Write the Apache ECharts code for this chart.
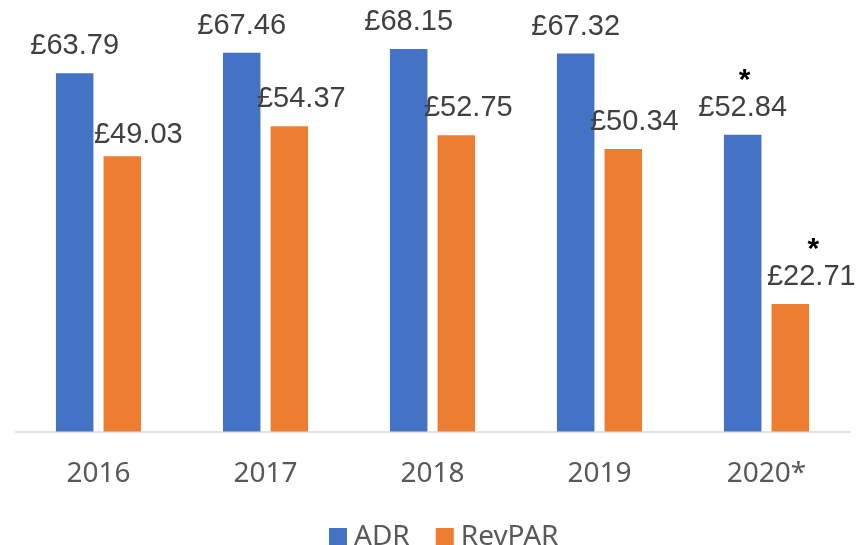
<!DOCTYPE html>
<html>
<head>
<meta charset="utf-8">
<script src="https://cdn.jsdelivr.net/npm/echarts@6/dist/echarts.min.js"></script>
<style>
  html, body { margin: 0; padding: 0; background: #fff; }
  #chart { width: 861px; height: 545px; }
</style>
</head>
<body>
<div id="chart"></div>
<script>
const years = ['2016', '2017', '2018', '2019', '2020*']
const adr = [63.79, 67.46, 68.15, 67.32, 52.84]
const revpar = [49.03, 54.37, 52.75, 50.34, 22.71]
// which points carry the provisional-year star above the label
const starred = [false, false, false, false, true]
// horizontal nudges of the RevPAR labels, as placed in the source chart
const revparShift = [16, 12, 12, 11, 21]

function makeLabel(value, i) {
  const txt = '£' + value.toFixed(2)
  return starred[i] ? '{s|*}\n{v|' + txt + '}' : '{v|' + txt + '}'
}

function richStyle() {
  return {
    v: { fontFamily: 'Liberation Sans', fontSize: 29, color: '#404040', lineHeight: 32 },
    s: { fontFamily: 'Liberation Sans', fontSize: 30, fontWeight: 'bold', color: '#000', lineHeight: 22, padding: [0, 0, 0, 4] }
  }
}

const chart = echarts.init(document.getElementById('chart'))

chart.setOption({
  backgroundColor: '#fff',
  animation: false,
  grid: {
    left: 15,
    right: 11,
    top: 38.5,
    bottom: 113.5
  },
  xAxis: {
    type: 'category',
    data: years,
    axisLine: { lineStyle: { color: '#d9d9d9', width: 1.5 } },
    axisTick: { show: false },
    axisLabel: {
      fontFamily: 'Noto Sans',
      fontSize: 28,
      color: '#595959',
      margin: 29
    }
  },
  yAxis: {
    type: 'value',
    min: 0,
    max: 70,
    show: false,
    splitLine: { show: false }
  },
  legend: {
    left: 324,
    top: 518,
    itemWidth: 18,
    itemHeight: 18,
    itemGap: 26,
    icon: 'rect',
    textStyle: {
      fontFamily: 'Noto Sans',
      fontSize: 28,
      color: '#595959',
      padding: [0, 0, 0, 2]
    },
    data: ['ADR', 'RevPAR']
  },
  series: [
    {
      name: 'ADR',
      type: 'bar',
      barWidth: 37.5,
      barGap: '27%',
      itemStyle: { color: '#4472C4' },
      label: {
        show: true,
        position: 'top',
        distance: 11,
        formatter: p => makeLabel(p.value, p.dataIndex),
        rich: richStyle()
      },
      data: adr
    },
    {
      name: 'RevPAR',
      type: 'bar',
      barWidth: 37.5,
      itemStyle: { color: '#ED7D31' },
      label: {
        show: true,
        position: 'top',
        distance: 11,
        formatter: p => makeLabel(p.value, p.dataIndex),
        rich: richStyle()
      },
      data: revpar.map((v, i) => ({
        value: v,
        label: { offset: [revparShift[i], i === 0 ? 6 : 0] }
      }))
    }
  ]
})
</script>
</body>
</html>
